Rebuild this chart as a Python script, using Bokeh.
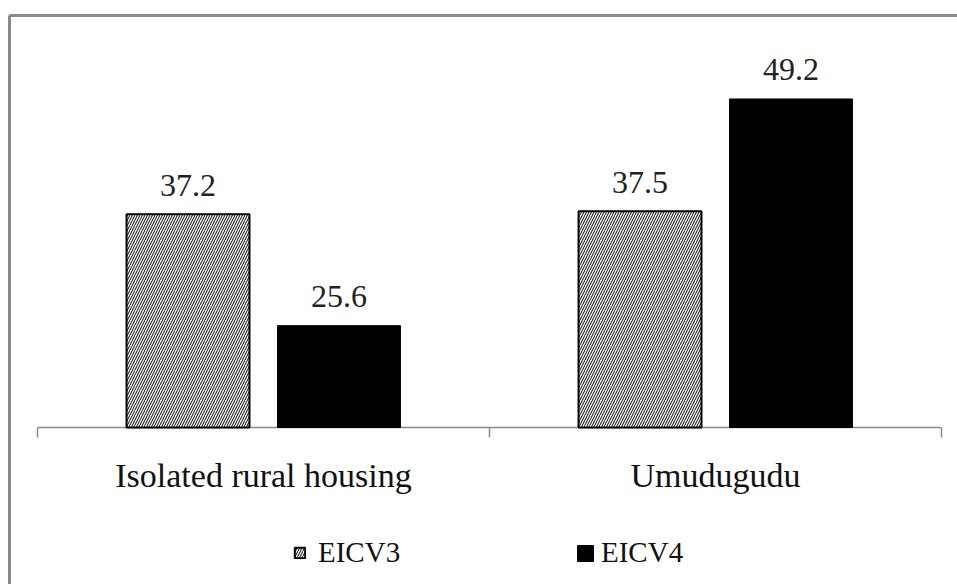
from bokeh.plotting import figure
from bokeh.models import (Range1d, FixedTicker, LinearAxis, Legend, LegendItem,
                          ColumnDataSource)
from bokeh.embed import file_html
from bokeh.resources import INLINE
from bokeh.core.properties import value

categories = ["Isolated rural housing", "Umudugudu"]
series_names = ["EICV3", "EICV4"]
eicv3 = [37.2, 37.5]
eicv4 = [25.6, 49.2]
y_base = 15

# ---- layout constants (pixels) ----
W, H = 957, 584
FRAME_L, FRAME_T = 9, 15          # outer border position (left / top)
X0_PX, XN_PX = 37, 941            # first / last category boundary
BASE_PX = 427                     # baseline of bars
PPU = 9.606                       # pixels per data unit
SERIF = "Liberation Serif"
GRAY = "#8a8a8a"

n = len(categories)
cat_px = (XN_PX - X0_PX) / n
x_start = -(X0_PX - FRAME_L) / cat_px
x_end = n + (W - XN_PX) / cat_px
y_start = y_base - (H - BASE_PX) / PPU
y_end = y_base + (BASE_PX - FRAME_T) / PPU

p = figure(width=W, height=H, output_backend="svg", toolbar_location=None,
           x_range=Range1d(x_start, x_end), y_range=Range1d(y_start, y_end),
           x_axis_location=None, y_axis_location=None,
           min_border_left=FRAME_L, min_border_top=FRAME_T,
           min_border_right=0, min_border_bottom=0)
p.outline_line_color = None
p.xgrid.visible = False
p.ygrid.visible = False
p.background_fill_color = "white"
p.border_fill_color = "white"

# outer chart border: top and left lines
def border_axis():
    return LinearAxis(ticker=FixedTicker(ticks=[]), axis_line_color=GRAY,
                      axis_line_width=3, major_tick_line_color=None,
                      minor_tick_line_color=None, major_tick_out=0, major_tick_in=0,
                      minor_tick_out=0, minor_tick_in=0, major_label_standoff=0,
                      major_label_text_font_size="0px")
p.add_layout(border_axis(), "left")
p.add_layout(border_axis(), "above")

# category axis (baseline + boundary ticks)
bounds = list(range(n + 1))
p.segment(x0=[0], y0=[y_base], x1=[n], y1=[y_base], line_color=GRAY, line_width=1.5)
p.segment(x0=bounds, y0=[y_base] * len(bounds), x1=bounds,
          y1=[y_base - 10 / PPU] * len(bounds), line_color=GRAY, line_width=1.5)

centers = [i + 0.5 for i in range(n)]
p.text(x=centers, y=[y_base - 48 / PPU] * n, text=categories, text_align="center",
       text_baseline="alphabetic", text_font=value(SERIF), text_font_size="34px",
       text_color="#111111")

# bars
bw = 0.272
off = 0.167
src3 = ColumnDataSource(dict(x=[c - off for c in centers], top=eicv3,
                             ly=[v + 29 / PPU for v in eicv3],
                             lab=[f"{v:.1f}" for v in eicv3]))
src4 = ColumnDataSource(dict(x=[c + off for c in centers], top=eicv4,
                             ly=[v + 29 / PPU for v in eicv4],
                             lab=[f"{v:.1f}" for v in eicv4]))

r3 = p.vbar(x="x", top="top", bottom=y_base, width=bw, source=src3,
            fill_color="white", line_color="black", line_width=2,
            hatch_pattern="/", hatch_color="black", hatch_scale=5, hatch_weight=1)
r4 = p.vbar(x="x", top="top", bottom=y_base, width=bw, source=src4,
            fill_color="black", line_color="black", line_width=1)

for s in (src3, src4):
    p.text(x="x", y="ly", text="lab", source=s, text_align="center",
           text_baseline="alphabetic", text_font=value(SERIF),
           text_font_size="32px", text_color="#222222")

# legends (one per series so each keeps its own swatch size)
def make_legend(name, rend, loc, gsize, standoff):
    lg = Legend(items=[LegendItem(label=name, renderers=[rend])], location=loc,
                orientation="horizontal", glyph_width=gsize, glyph_height=gsize,
                label_standoff=standoff, padding=0, margin=0, spacing=0,
                border_line_color=None, background_fill_alpha=0,
                label_text_font=SERIF, label_text_font_size="29px",
                label_text_color="#111111")
    p.add_layout(lg, "center")

make_legend(series_names[0], r3, (293 - FRAME_L, 15), 13, 12)
make_legend(series_names[1], r4, (575 - FRAME_L, 15), 20, 6)

open("out.html", "w").write(file_html(p, INLINE))
